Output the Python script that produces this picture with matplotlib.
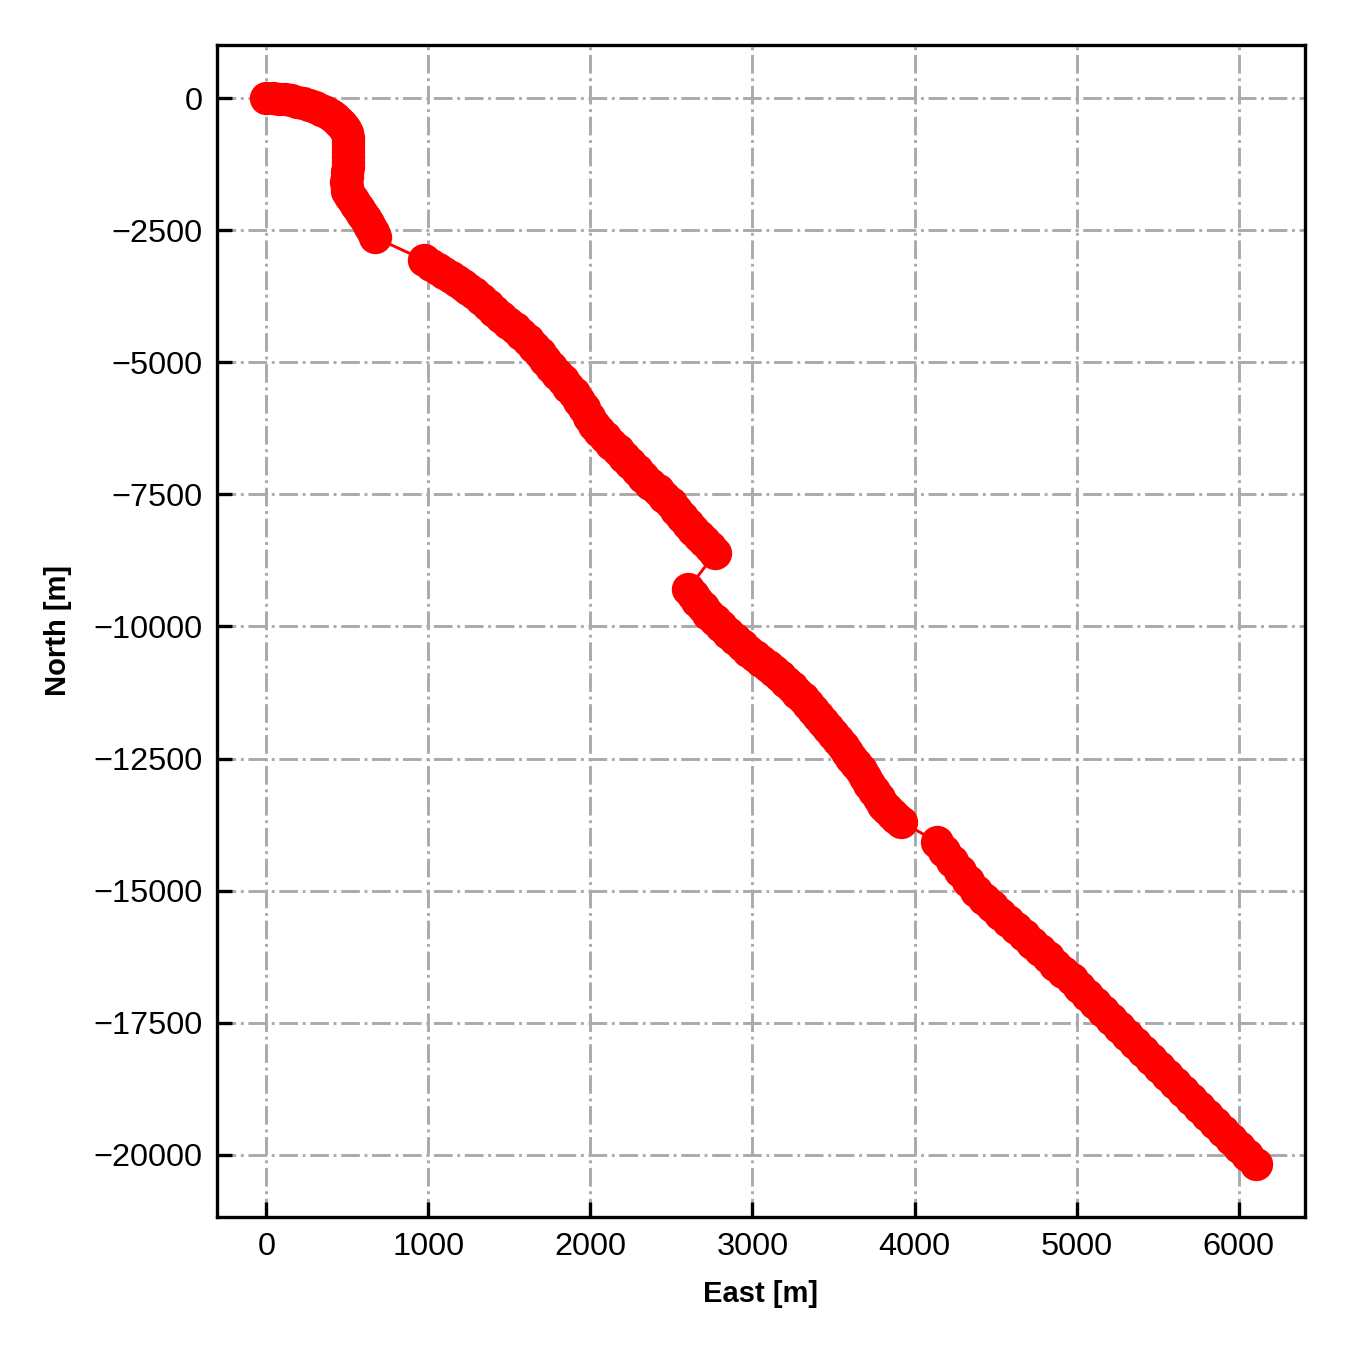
import matplotlib
matplotlib.use("Agg")
import matplotlib.pyplot as plt

plt.rcParams['font.family'] = ['Liberation Sans', 'DejaVu Sans']

# Trajectory (East, North) in metres
east = [0, 40, 80, 117, 154, 191, 228, 265, 302, 336, 369, 397, 425, 447, 468, 485, 499, 503, 505, 505,
        505, 505, 505, 502, 499, 496, 493, 495, 499, 517, 536, 555, 573, 592, 610, 625, 640, 656, 671,
        975, 1017, 1059, 1099, 1139, 1176, 1213, 1247, 1281, 1324, 1367, 1407, 1447, 1490, 1533, 1573,
        1613, 1650, 1687, 1721, 1755, 1792, 1829, 1863, 1896, 1927, 1958, 1989, 2019, 2053, 2087, 2127,
        2167, 2207, 2247, 2287, 2327, 2370, 2414, 2454, 2494, 2530, 2567, 2601, 2635, 2669, 2703, 2737,
        2770,
        2604, 2632, 2660, 2694, 2728, 2768, 2808, 2851, 2894, 2934, 2974, 3014, 3054, 3094, 3134, 3171,
        3208, 3242, 3276, 3310, 3343, 3374, 3405, 3436, 3466, 3497, 3528, 3556, 3583, 3611, 3639, 3667,
        3694, 3722, 3750, 3778, 3805, 3833, 3860, 3888, 3916,
        4137, 4181, 4230, 4279, 4328, 4378, 4427, 4476, 4525, 4575, 4624, 4673, 4722, 4772, 4821, 4870,
        4919, 4969, 5018, 5067, 5116, 5166, 5215, 5264, 5313, 5363, 5412, 5461, 5511, 5560, 5609, 5658,
        5708, 5757, 5806, 5855, 5905, 5954, 6003, 6052, 6105]
north = [0, -3, -9, -22, -38, -64, -95, -130, -170, -216, -265, -320, -379, -444, -511, -586, -663, -748,
         -833, -928, -1023, -1118, -1212, -1307, -1402, -1497, -1591, -1676, -1761, -1847, -1932, -2017,
         -2102, -2188, -2273, -2358, -2443, -2538, -2633,
         -3068, -3155, -3239, -3315, -3390, -3466, -3542, -3618, -3693, -3807, -3921, -4035, -4148, -4252,
         -4356, -4470, -4583, -4707, -4830, -4963, -5095, -5218, -5341, -5464, -5587, -5729, -5871, -6032,
         -6193, -6307, -6421, -6544, -6667, -6790, -6913, -7046, -7178, -7301, -7424, -7548, -7671, -7804,
         -7936, -8059, -8182, -8286, -8390, -8504, -8618,
         -9281, -9395, -9508, -9631, -9754, -9877, -10000, -10123, -10246, -10351, -10455, -10550, -10644,
         -10739, -10834, -10938, -11042, -11146, -11250, -11355, -11459, -11573, -11686, -11800, -11913,
         -12027, -12141, -12255, -12368, -12482, -12595, -12718, -12841, -12974, -13107, -13240, -13372,
         -13457, -13542, -13618, -13694,
         -14072, -14243, -14432, -14622, -14811, -15000, -15152, -15285, -15436, -15569, -15701, -15834,
         -15985, -16118, -16251, -16402, -16535, -16667, -16819, -16970, -17122, -17273, -17425, -17576,
         -17728, -17879, -18031, -18182, -18334, -18485, -18637, -18788, -18940, -19092, -19243, -19395,
         -19546, -19698, -19849, -20000, -20170]

xticks = [0, 1000, 2000, 3000, 4000, 5000, 6000]
yticks = [0, -2500, -5000, -7500, -10000, -12500, -15000, -17500, -20000]

fig = plt.figure(figsize=(4.5, 4.5), dpi=300)
ax = fig.add_axes([0.1607, 0.0985, 0.806, 0.8682])

ax.plot(east, north, color='red', linewidth=0.7, marker='o', markersize=7,
        markerfacecolor='red', markeredgecolor='red', zorder=3)

ax.set_xticks(xticks)
ax.set_yticks(yticks)
ax.grid(True, linestyle='-.', color='#aaaaaa', linewidth=0.7, zorder=0)
ax.set_axisbelow(True)
ax.tick_params(direction='in', labelsize=7.8, length=3.5, width=0.8)
for s in ax.spines.values():
    s.set_linewidth(0.8)

ax.set_xlabel('East [m]', fontsize=7, fontweight='bold', labelpad=4.5)
ax.set_ylabel('North [m]', fontsize=7, fontweight='bold', labelpad=5)

fig.savefig('out.png', dpi=300)
